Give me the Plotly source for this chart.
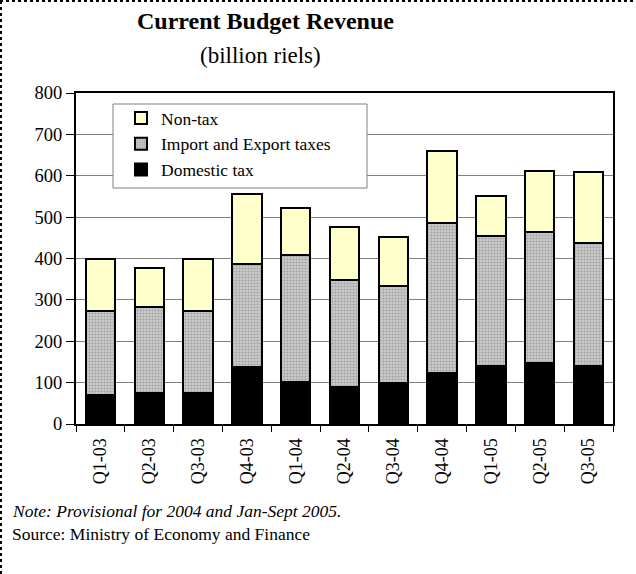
import plotly.graph_objects as go

quarters = ["Q1-03", "Q2-03", "Q3-03", "Q4-03", "Q1-04", "Q2-04", "Q3-04", "Q4-04", "Q1-05", "Q2-05", "Q3-05"]
domestic_tax = [70, 74, 74, 137, 102, 90, 98, 123, 140, 147, 141]
import_export_taxes = [202, 210, 198, 249, 307, 258, 236, 362, 315, 318, 296]
non_tax = [128, 93, 126, 170, 114, 127, 117, 174, 95, 147, 171]
y_ticks = [0, 100, 200, 300, 400, 500, 600, 700, 800]

FONT = "Liberation Serif"

fig = go.Figure()
fig.add_trace(go.Bar(
    x=quarters, y=domestic_tax, name="Domestic tax",
    marker=dict(color="#000000", line=dict(color="#000000", width=2)),
))
fig.add_trace(go.Bar(
    x=quarters, y=import_export_taxes, name="Import and Export taxes",
    marker=dict(color="#b0b0b0", line=dict(color="#000000", width=2),
                pattern=dict(shape=".", fgcolor="#7a7a7a", bgcolor="#d4d4d4", size=3, solidity=0.5)),
))
fig.add_trace(go.Bar(
    x=quarters, y=non_tax, name="Non-tax",
    marker=dict(color="#ffffcc", line=dict(color="#000000", width=2)),
))

L, R, T, B = 76, 23, 93, 150
W, H = 636, 574
pw, ph = W - L - R, H - T - B


def px(xp):
    return (xp - L) / pw


def py(yp):
    return 1 - (yp - T) / ph


fig.update_layout(
    width=W, height=H,
    barmode="stack", bargap=0.4,
    plot_bgcolor="white", paper_bgcolor="white",
    margin=dict(l=L, r=R, t=T, b=B),
    font=dict(family=FONT, color="black", size=18),
    showlegend=True,
    legend=dict(
        x=px(121), y=py(100), xanchor="left", yanchor="top",
        traceorder="reversed", borderwidth=0,
        bgcolor="rgba(0,0,0,0)", font=dict(family=FONT, size=17.5, color="black"),
        itemwidth=30, tracegroupgap=0,
    ),
    xaxis=dict(
        type="category", tickangle=-90, tickson="boundaries",
        ticks="outside", ticklen=6, tickcolor="black", tickwidth=1,
        showline=True, linecolor="black", linewidth=2, mirror=True,
        showgrid=False, tickfont=dict(family=FONT, size=18), ticklabelstandoff=5,
    ),
    yaxis=dict(
        range=[0, 800], tickvals=y_ticks, ticks="outside", ticklen=8,
        tickcolor="black", showline=True, linecolor="black", linewidth=2, mirror=True,
        showgrid=True, gridcolor="#808080", gridwidth=1, zeroline=False,
        tickfont=dict(family=FONT, size=18.5),
    ),
    annotations=[
        dict(text="<b>Current Budget Revenue</b>", xref="paper", yref="paper",
             x=px(265), y=py(21), xanchor="center", yanchor="middle",
             showarrow=False, font=dict(family=FONT, size=24)),
        dict(text="(billion riels)", xref="paper", yref="paper",
             x=px(260), y=py(56), xanchor="center", yanchor="middle",
             showarrow=False, font=dict(family=FONT, size=23)),
        dict(text="<i>Note: Provisional for 2004 and Jan-Sept 2005.</i>", xref="paper", yref="paper",
             x=px(10), y=py(511), xanchor="left", yanchor="middle",
             showarrow=False, font=dict(family=FONT, size=17.5)),
        dict(text="Source: Ministry of Economy and Finance", xref="paper", yref="paper",
             x=px(10), y=py(534), xanchor="left", yanchor="middle",
             showarrow=False, font=dict(family=FONT, size=17.5)),
    ],
    shapes=[
        dict(type="rect", xref="paper", yref="paper", layer="above",
             x0=px(113), x1=px(367), y0=py(188), y1=py(104),
             fillcolor="white", line=dict(color="#808080", width=1)),
        dict(type="line", xref="paper", yref="paper",
             x0=px(0), x1=px(W), y0=py(1), y1=py(1),
             line=dict(color="black", width=2, dash="dot")),
        dict(type="line", xref="paper", yref="paper",
             x0=px(1), x1=px(1), y0=py(H), y1=py(0),
             line=dict(color="black", width=2, dash="dot")),
    ],
)

fig.write_html("out.html", config={"displayModeBar": False},
               post_script="document.body.style.margin='0';document.body.style.overflow='hidden';")
